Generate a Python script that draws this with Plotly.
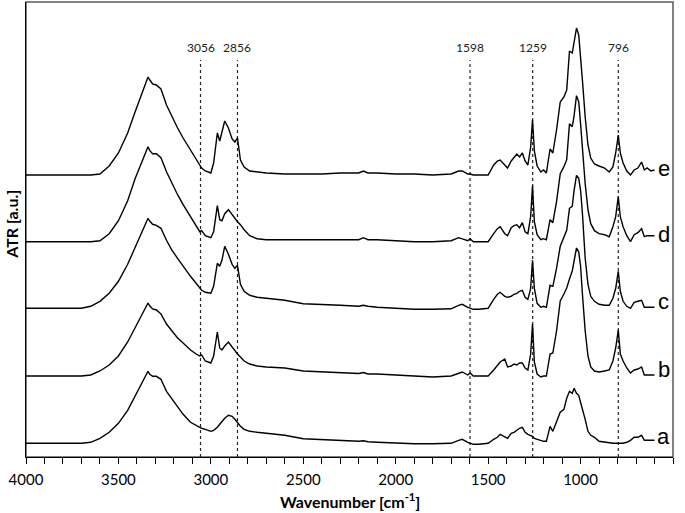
import plotly.graph_objects as go

# Wavenumber grid (cm-1) shared by all spectra
wavenumber = [
    4000, 3900, 3800, 3700, 3650, 3600, 3550, 3500, 3450, 3410, 3380, 3355, 3340, 3330, 3315, 3295, 3270, 3240, 3210, 3180, 3150, 3110, 3080, 3060, 3050, 3030,
    3000, 2985, 2965, 2952, 2940, 2925, 2905, 2885, 2870, 2856, 2840, 2820, 2790, 2750, 2700, 2600, 2500,
    2400, 2300, 2200, 2175, 2150, 2100, 2000, 1900, 1800, 1700, 1660, 1640, 1610, 1598, 1580, 1550,
    1500, 1470, 1450, 1435, 1410, 1395, 1375, 1360, 1345, 1330, 1315, 1300, 1285, 1270, 1260, 1250, 1235, 1215, 1200, 1185,
    1165, 1150, 1130, 1110, 1090, 1075, 1060, 1045, 1035, 1022, 1010, 1000, 990, 975, 960, 945, 925, 900,
    870, 845, 825, 810, 796, 785, 770, 750, 730, 710, 690, 670, 655, 640, 620, 600,
]

# Intensities (a.u., relative to each spectrum's own baseline)
spec_a = [
    0, 0, 0, 0, 1, 5, 11, 20, 33, 47, 58, 66, 72, 69, 67, 67, 64, 52, 44, 36, 29, 21, 18, 16, 15, 14,
    12, 13, 16, 19, 22, 25, 28, 27, 24, 21, 17, 14, 12, 11, 10, 8, 4.5,
    3.5, 3, 2, 2.5, 1.5, 1, 0, -0.5, -0.5, 0, 3, 4, 1, 0, -1, -1,
    0, 4, 6, 9, 6, 5, 10, 11, 13, 15, 16, 11, 9, 8, 7, 5, 4, 3, 2, 2,
    17, 12, 22, 31, 34, 45, 52, 50, 55, 50, 48, 40, 34, 24, 12, 8, 6, 2,
    1, 0, 0, 0, 0, 0, 0, 1, 3, 6, 6, 8, 3, 3, 3, 3,
]
spec_b = [
    0, 0, 0, 0, 1, 5, 11, 20, 34, 48, 58, 67, 73, 70, 67, 66, 62, 52, 45, 38, 33, 26, 22, 20, 21, 15,
    13, 20, 44, 28, 26, 30, 34, 29, 25, 22, 19, 15, 12, 10, 9, 8, 5,
    4, 3, 2.5, 3.5, 2, 2, 1, 0, -1, 0, 3, 4, 1, 3, 0, 0,
    0, 6, 11, 14, 17, 9, 10, 12, 11, 13, 13, 8, 6, 22, 52, 14, 2, -1, 0, 0,
    22, 23, 45, 75, 82, 88, 97, 105, 115, 128, 124, 110, 82, 45, 20, 9, 5, 4,
    5, 6, 15, 28, 46, 22, 15, 8, 3, 6, 7, 9, 1, 1, 1, 1,
]
spec_c = [
    0, 0, 0, 0, 2, 7, 15, 27, 44, 61, 73, 84, 90, 87, 84, 83, 80, 68, 58, 50, 42, 32, 25, 20, 18, 16,
    15, 22, 45, 42, 48, 62, 54, 44, 40, 43, 24, 17, 13, 11, 10, 8, 4.5,
    4, 3, 2, 3, 2, 1, 0, -1, -1, -0.5, 3, 4, 1, 0, -1, -1,
    0, 9, 14, 16, 12, 11, 12, 14, 15, 17, 18, 11, 9, 20, 48, 20, 5, 1, 2, 1,
    23, 22, 40, 62, 72, 78, 100, 102, 118, 133, 130, 118, 95, 50, 24, 12, 7, 4,
    3, 3, 10, 20, 37, 17, 7, 2, 0, 6, 7, 8, 1, 1, 1, 1,
]
spec_d = [
    0, 0, 0, 0, 0, 1, 8, 21, 41, 63, 76, 87, 95, 91, 88, 88, 84, 70, 58, 47, 37, 25, 15, 10, 11, 6,
    4, 10, 36, 22, 21, 28, 32, 27, 23, 20, 17, 12, 6, 3, 2, 2, 2,
    2, 2, 2, 4, 2, 2, 1, 0, 0, 1, 4, 3, 1, 3, 0, 0,
    0, 8, 13, 15, 8, 6, 14, 16, 17, 14, 19, 10, 8, 25, 56, 20, 7, 2, 3, 2,
    22, 19, 40, 68, 75, 82, 118, 115, 126, 146, 140, 118, 92, 58, 32, 18, 11, 8,
    7, 5, 15, 25, 45, 25, 15, 6, 0, 7, 9, 13, 5, 6, 6, 6,
]
spec_e = [
    0, 0, 0, 0, 0, 1, 9, 22, 42, 63, 78, 90, 98, 95, 91, 90, 86, 70, 58, 47, 37, 25, 15, 9, 7, 4,
    2, 12, 42, 34, 42, 54, 47, 36, 33, 37, 15, 8, 4, 3, 2, 1, 1,
    1, 2, 2, 4, 2, 2, 1, 1, 0, 1, 4, 4, 1, 1, 0, 0,
    0, 10, 14, 15, 10, 7, 14, 17, 21, 18, 22, 14, 10, 28, 55, 24, 9, 3, 5, 2,
    26, 22, 45, 73, 78, 85, 124, 122, 132, 147, 140, 120, 95, 58, 30, 17, 11, 9,
    7, 3, 8, 22, 40, 22, 12, 4, 0, 5, 7, 13, 5, 7, 4, 5,
]

series_labels = ["a", "b", "c", "d", "e"]
series_offsets = [13.7, 81, 148.7, 215.3, 282]
marked_peaks = [3056, 2856, 1598, 1259, 796]

spectra = [spec_a, spec_b, spec_c, spec_d, spec_e]
for s in spectra:
    assert len(s) == len(wavenumber), len(s)

fig = go.Figure()
for lab, off, s in zip(series_labels, series_offsets, spectra):
    fig.add_trace(go.Scatter(
        x=wavenumber, y=[v + off for v in s], mode="lines",
        line=dict(color="black", width=1.4), name=lab, showlegend=False,
        hoverinfo="skip",
    ))

# dotted marker lines and their labels
for p in marked_peaks:
    fig.add_shape(type="line", x0=p, x1=p, y0=0, y1=397, xref="x", yref="y",
                  line=dict(color="#222", width=1.2, dash="dot"), layer="below")
    fig.add_annotation(x=p, y=410, xref="x", yref="y", text=str(p), showarrow=False,
                       font=dict(family="Lato", size=12, color="#222"))

# series letters
for lab, off in zip(series_labels, series_offsets):
    fig.add_annotation(x=551, y=off + 7, xref="x", yref="y", text=lab, showarrow=False,
                       font=dict(family="Liberation Sans", size=22, color="black"),
                       xanchor="center", yanchor="middle")

# frame (top/right gray)
fig.add_shape(type="rect", xref="paper", yref="paper", x0=0, x1=1, y0=0, y1=1,
              line=dict(color="#5a5a5a", width=1.5), layer="below")

fig.add_annotation(xref="paper", yref="paper", x=-0.0235, y=0.512, text="<b>ATR [a.u.]</b>",
                   textangle=-90, showarrow=False, xanchor="center", yanchor="middle",
                   borderpad=0,
                   font=dict(family="Lato", size=16, color="black"))
fig.add_annotation(xref="paper", yref="paper", x=0.5, y=-0.0967, text="<b>Wavenumber [cm<sup>-1</sup>]</b>",
                   showarrow=False, xanchor="center", yanchor="middle",
                   font=dict(family="Lato", size=16, color="black"))

fig.update_layout(
    width=685, height=513,
    margin=dict(l=26, r=12, t=2, b=56),
    paper_bgcolor="white", plot_bgcolor="white",
    xaxis=dict(range=[4000, 500], dtick=500, tick0=500, showgrid=False, zeroline=False,
               showline=True, linecolor="black", linewidth=1.3,
               ticks="outside", ticklen=6, tickwidth=1, tickcolor="black",
               minor=dict(dtick=100, ticks="outside", ticklen=6, tickwidth=1, tickcolor="black"),
               tickfont=dict(family="Lato", size=15, color="black"), ticklabelstandoff=3),
    yaxis=dict(range=[0, 455], showgrid=False, zeroline=False, showticklabels=False,
               showline=True, linecolor="black", linewidth=1.3, ticks=""),
)

fig.write_html("out.html", config={"displayModeBar": False},
               post_script="document.body.style.margin='0';")
